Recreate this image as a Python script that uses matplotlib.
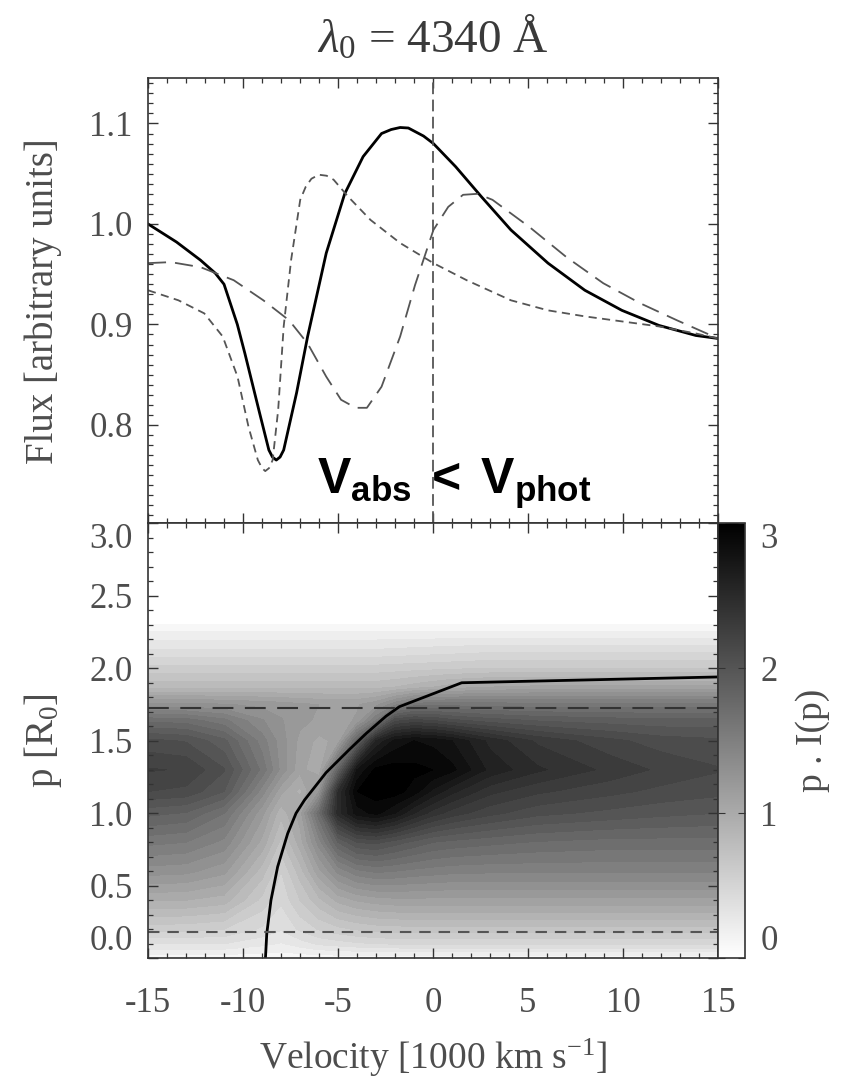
import numpy as np
import matplotlib
matplotlib.use('Agg')
import matplotlib.pyplot as plt
from matplotlib import cm, colors
from matplotlib.ticker import MultipleLocator, FormatStrFormatter

plt.rcParams['font.family'] = 'Liberation Serif'
plt.rcParams['mathtext.fontset'] = 'custom'
plt.rcParams['mathtext.rm'] = 'Liberation Serif'
plt.rcParams['mathtext.it'] = 'Liberation Serif:italic'
plt.rcParams['mathtext.bf'] = 'Liberation Sans:bold'

# top panel: line profiles (velocity in 1000 km/s, flux)
solid_v = [-15, -13.5, -12.24, -11.46, -11.0, -10.3, -9.9, -9.13, -8.64, -8.45, -8.25, -8.05,
           -7.86, -7.18, -6.6, -5.62, -4.65, -3.68, -2.71, -2.2, -1.73, -1.3, -0.95, -0.5,
           0.02, 1.19, 2.55, 4.1, 6.05, 7.99, 9.94, 11.89, 13.83, 15]
solid_f = [1.0, 0.982, 0.964, 0.951, 0.940, 0.900, 0.871, 0.812, 0.775, 0.768, 0.765, 0.768,
           0.775, 0.832, 0.888, 0.971, 1.030, 1.067, 1.090, 1.094, 1.096, 1.0955, 1.092, 1.0875,
           1.080, 1.057, 1.027, 0.994, 0.961, 0.934, 0.914, 0.899, 0.889, 0.886]

short_v = [-15, -13.4, -12.04, -11.07, -10.29, -9.71, -9.22, -9.0, -8.83, -8.63, -8.44, -8.15,
           -7.86, -7.47, -6.99, -6.7, -6.4, -6.01, -5.6, -5.23, -4.46, -3.29, -1.73, 0.02, 1.77,
           4.1, 6.05, 7.99, 9.94, 11.89, 13.83, 15]
short_f = [0.934, 0.924, 0.911, 0.888, 0.848, 0.798, 0.765, 0.757, 0.754, 0.757, 0.765, 0.815,
           0.898, 0.964, 1.024, 1.037, 1.045, 1.049, 1.048, 1.044, 1.027, 1.004, 0.981, 0.961,
           0.944, 0.924, 0.914, 0.908, 0.903, 0.898, 0.891, 0.886]

long_v = [-15, -13.8, -12.24, -10.49, -8.93, -7.57, -6.6, -5.62, -4.84, -4.07, -3.48, -2.71,
          -1.73, -0.95, 0.02, 0.8, 1.58, 2.35, 3.13, 5.07, 7.02, 8.96, 10.91, 12.85, 15]
long_f = [0.961, 0.962, 0.957, 0.944, 0.924, 0.904, 0.881, 0.848, 0.825, 0.817, 0.817, 0.838,
          0.888, 0.939, 0.994, 1.017, 1.029, 1.030, 1.024, 0.997, 0.967, 0.941, 0.921, 0.904,
          0.886]

# bottom panel: p * I(p)
v_grid = [-15, -13, -11, -9, -8, -7, -6, -5, -4, -3, -2, -1, 0, 1, 3, 5.5, 9.3, 12, 15]
p_grid = [0.0, 0.1, 0.2, 0.4, 0.6, 0.8, 1.0, 1.15, 1.3, 1.5, 1.64, 1.75, 1.87, 2.0, 2.13,
          2.24, 2.3, 2.32, 3.0]
pI = [
    [0.08] * 19,
    [0.35, 0.35, 0.35, 0.28, 0.24, 0.30, 0.37, 0.40, 0.43, 0.45, 0.46, 0.47, 0.47, 0.47, 0.47, 0.47, 0.47, 0.47, 0.47],
    [0.59, 0.58, 0.55, 0.43, 0.36, 0.47, 0.56, 0.62, 0.66, 0.69, 0.70, 0.71, 0.71, 0.71, 0.71, 0.71, 0.71, 0.71, 0.71],
    [0.96, 0.95, 0.90, 0.62, 0.47, 0.65, 0.82, 0.98, 1.06, 1.10, 1.12, 1.12, 1.12, 1.12, 1.12, 1.12, 1.12, 1.12, 1.12],
    [1.30, 1.28, 1.18, 0.80, 0.55, 0.80, 1.12, 1.38, 1.52, 1.57, 1.55, 1.52, 1.50, 1.48, 1.47, 1.47, 1.47, 1.47, 1.47],
    [1.58, 1.55, 1.42, 1.02, 0.72, 1.00, 1.40, 1.85, 2.05, 2.08, 2.00, 1.92, 1.85, 1.82, 1.78, 1.74, 1.71, 1.71, 1.71],
    [1.88, 1.84, 1.65, 1.18, 0.88, 1.10, 1.72, 2.50, 2.80, 2.88, 2.75, 2.55, 2.40, 2.30, 2.18, 2.08, 2.02, 1.98, 1.95],
    [2.15, 2.12, 1.95, 1.40, 1.08, 0.92, 1.25, 2.45, 2.95, 3.00, 3.00, 2.90, 2.72, 2.58, 2.38, 2.27, 2.18, 2.12, 2.08],
    [2.26, 2.24, 2.06, 1.62, 1.32, 1.08, 0.98, 1.80, 2.75, 2.98, 3.00, 2.98, 2.95, 2.88, 2.62, 2.47, 2.32, 2.23, 2.16],
    [2.08, 2.04, 1.88, 1.50, 1.30, 1.12, 1.02, 1.08, 1.80, 2.55, 2.78, 2.85, 2.82, 2.75, 2.52, 2.33, 2.18, 2.10, 2.07],
    [1.72, 1.70, 1.58, 1.36, 1.26, 1.18, 1.13, 1.12, 1.16, 1.55, 2.12, 2.18, 2.15, 2.08, 2.00, 1.94, 1.90, 1.88, 1.88],
    [1.28, 1.28, 1.26, 1.22, 1.20, 1.17, 1.15, 1.14, 1.14, 1.22, 1.42, 1.60, 1.62, 1.61, 1.60, 1.59, 1.59, 1.59, 1.59],
    [0.82, 0.82, 0.82, 0.82, 0.82, 0.82, 0.82, 0.82, 0.82, 0.82, 0.85, 0.90, 0.95, 1.00, 1.05, 1.08, 1.08, 1.08, 1.08],
    [0.59, 0.59, 0.59, 0.59, 0.59, 0.59, 0.59, 0.59, 0.59, 0.59, 0.60, 0.61, 0.62, 0.63, 0.65, 0.65, 0.65, 0.65, 0.65],
    [0.35, 0.35, 0.35, 0.35, 0.35, 0.35, 0.35, 0.35, 0.35, 0.35, 0.36, 0.37, 0.38, 0.39, 0.41, 0.41, 0.41, 0.41, 0.41],
    [0.18] * 19,
    [0.06] * 19,
    [0.0] * 19,
    [0.0] * 19,
]

# impact parameter of the absorbing layer vs velocity
curve_v = [-8.82, -8.75, -8.53, -8.18, -7.65, -7.21, -6.77, -5.63, -4.4, -3.52, -2.47, -1.77,
           1.51, 15]
curve_p = [0.0, 0.17, 0.40, 0.63, 0.86, 1.0, 1.09, 1.28, 1.44, 1.55, 1.67, 1.735, 1.90, 1.94]
p_outer = 1.725
p_inner = 0.18

txt = '#4d4d4d'
frame = '#333333'

fig = plt.figure(figsize=(8.41, 10.84), dpi=100)


def style_axes(ax):
    for s in ax.spines.values():
        s.set_color(frame)
        s.set_linewidth(1.2)
    ax.tick_params(which='both', direction='in', top=True, right=True, color=frame,
                   labelcolor=txt, labelsize=25)
    ax.tick_params(which='major', length=7, width=1)
    ax.tick_params(which='minor', length=3.5, width=0.9)


# ---- top panel
ax1 = fig.add_axes([0.176, 0.5172, 0.6778, 0.4106])
ax1.plot(solid_v, solid_f, color='black', lw=2.0)
ax1.plot(short_v, short_f, color='#555555', lw=1.3, dashes=(4.5, 3))
ax1.plot(long_v, long_f, color='#555555', lw=1.3, dashes=(10, 5))
ax1.axvline(0, color='#555555', lw=1.3, dashes=(6.5, 3))
ax1.set_xlim(-15, 15)
ax1.set_ylim(0.702, 1.145)
ax1.xaxis.set_major_locator(MultipleLocator(5))
ax1.xaxis.set_minor_locator(MultipleLocator(1))
ax1.yaxis.set_major_locator(MultipleLocator(0.1))
ax1.yaxis.set_minor_locator(MultipleLocator(0.01))
ax1.yaxis.set_major_formatter(FormatStrFormatter('%.1f'))
style_axes(ax1)
ax1.tick_params(axis='x', labelbottom=False)
ax1.tick_params(axis='y', pad=11)
ax1.set_ylabel('Flux [arbitrary units]', fontsize=28, color=txt, va='center')
ax1.yaxis.set_label_coords(-0.184, 0.5)
ax1.text(1.1, 0.731, r'$\mathbf{V_{abs}\ <\ V_{phot}}$', fontsize=36, color='black',
         ha='center', va='baseline')

fig.text(0.515, 1 - 53 / 1084, r'$\lambda_0$ = 4340 Å', fontsize=34, color='#3a3a3a',
         ha='center', va='baseline')

# ---- bottom panel
ax2 = fig.add_axes([0.176, 0.116, 0.6778, 0.4013])
levels = np.linspace(0.05, 3.05, 31)
ax2.contourf(v_grid, p_grid, pI, levels=levels, cmap='gray_r', vmin=0, vmax=3)
ax2.plot(curve_v, curve_p, color='black', lw=2.0)
ax2.axhline(p_outer, color='#333333', lw=1.5, dashes=(10, 5.5))
ax2.axhline(p_inner, color='#555555', lw=1.5, dashes=(5.5, 3.8))
ax2.set_xlim(-15, 15)
ax2.set_ylim(0, 3.0)
ax2.xaxis.set_major_locator(MultipleLocator(5))
ax2.xaxis.set_minor_locator(MultipleLocator(1))
ax2.set_yticks(np.arange(0, 3.01, 0.5))
ax2.yaxis.set_minor_locator(MultipleLocator(0.1))
ax2.yaxis.set_major_formatter(FormatStrFormatter('%.1f'))
ax2.xaxis.set_major_formatter(FormatStrFormatter('%d'))
style_axes(ax2)
ax2.tick_params(axis='y', pad=11)
ax2.tick_params(axis='x', pad=21)
yt = ax2.yaxis.get_major_ticks()
yt[0].label1.set_va('bottom')
yt[-1].label1.set_va('top')
ax2.set_ylabel('p [R$_0$]', fontsize=28, color=txt, va='center')
ax2.yaxis.set_label_coords(-0.184, 0.5)
ax2.set_xlabel('Velocity [1000 km s$^{-1}$]', fontsize=27, color=txt, va='center')
ax2.xaxis.set_label_coords(0.5, -0.23)

# ---- colour bar
cax = fig.add_axes([0.8537, 0.116, 0.0321, 0.4013])
sm = cm.ScalarMappable(norm=colors.Normalize(0, 3), cmap='gray_r')
cb = fig.colorbar(sm, cax=cax)
cb.set_ticks([0, 1, 2, 3])
cb.set_ticklabels(['0', '1', '2', '3'])
cb.outline.set_edgecolor(frame)
cb.outline.set_linewidth(1.2)
cax.tick_params(direction='in', left=True, right=True, length=5, color=frame,
                labelcolor=txt, labelsize=25, pad=11)
ct = cax.yaxis.get_major_ticks()
ct[0].label2.set_va('bottom')
ct[-1].label2.set_va('top')
cb.set_label('p . I(p)', fontsize=27, color=txt, va='center')
cax.yaxis.set_label_coords(3.5, 0.5)

fig.savefig('out.png', dpi=100)
